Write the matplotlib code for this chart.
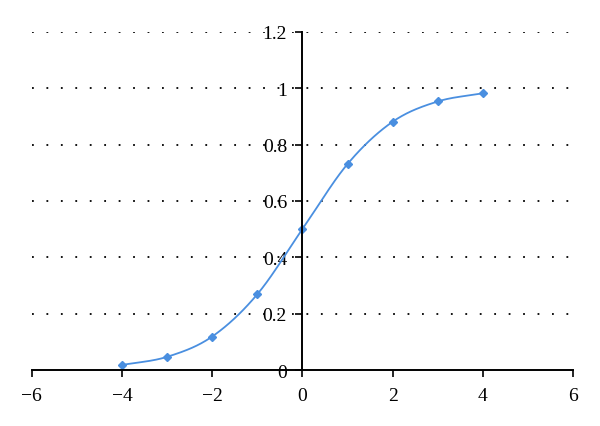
import numpy as np
import matplotlib.pyplot as plt

x_vals = [-4, -3, -2, -1, 0, 1, 2, 3, 4]
y_vals = [0.018, 0.047, 0.119, 0.269, 0.5, 0.731, 0.881, 0.953, 0.982]
x_ticks = [-6, -4, -2, 0, 2, 4, 6]
y_ticks = [0, 0.2, 0.4, 0.6, 0.8, 1, 1.2]
y_labels = ['0', '0.2', '0.4', '0.6', '0.8', '1', '1.2']
color = '#4a8fe0'


def smooth(xs, ys, n=30):
    # catmull-rom through the points, like a spreadsheet "smoothed line"
    xs = np.asarray(xs, float)
    ys = np.asarray(ys, float)
    px = np.concatenate([[2 * xs[0] - xs[1]], xs, [2 * xs[-1] - xs[-2]]])
    py = np.concatenate([[2 * ys[0] - ys[1]], ys, [2 * ys[-1] - ys[-2]]])
    ox, oy = [], []
    t = np.linspace(0, 1, n)
    for i in range(1, len(px) - 2):
        for p, o in ((px, ox), (py, oy)):
            p0, p1, p2, p3 = p[i - 1], p[i], p[i + 1], p[i + 2]
            o.extend(0.5 * (2 * p1 + (-p0 + p2) * t
                            + (2 * p0 - 5 * p1 + 4 * p2 - p3) * t ** 2
                            + (-p0 + 3 * p1 - 3 * p2 + p3) * t ** 3))
    return np.array(ox), np.array(oy)


plt.rcParams['font.family'] = ['Liberation Serif', 'DejaVu Serif']

fig = plt.figure(figsize=(6, 4.27), dpi=100)
ax = fig.add_axes([0.053, 0.131, 0.902, 0.792])

sx, sy = smooth(x_vals, y_vals)
ax.plot(sx, sy, color=color, linewidth=1.3)
ax.plot(x_vals, y_vals, linestyle='none', marker='D', markersize=4.5, color=color)

for yv in y_ticks[1:]:
    ax.axhline(yv, color='black', linestyle=(0, (1, 7)), linewidth=1.3, zorder=0)

ax.set_xlim(-6, 6)
ax.set_ylim(0, 1.2)
ax.spines['left'].set_position(('data', 0))
ax.spines['right'].set_visible(False)
ax.spines['top'].set_visible(False)
ax.spines['left'].set_linewidth(1.4)
ax.spines['bottom'].set_linewidth(1.4)

ax.set_xticks(x_ticks)
ax.set_xticklabels(['\u22126', '\u22124', '\u22122', '0', '2', '4', '6'])
ax.set_yticks(y_ticks)
ax.set_yticklabels(y_labels)
ax.tick_params(axis='both', labelsize=14, direction='out', length=5, width=1.2)
ax.tick_params(axis='y', pad=6)
ax.tick_params(axis='x', pad=7)

fig.savefig('out.png', dpi=100)
